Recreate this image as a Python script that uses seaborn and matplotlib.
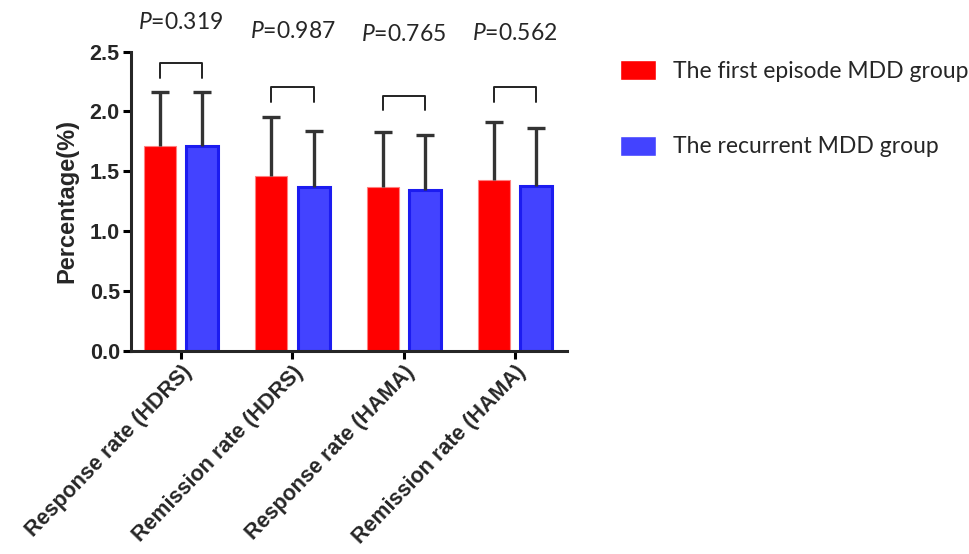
import matplotlib
matplotlib.use('Agg')
import matplotlib.pyplot as plt
import seaborn as sns
import numpy as np
import pandas as pd

# values
measures = ['Response rate (HDRS)', 'Remission rate (HDRS)',
            'Response rate (HAMA)', 'Remission rate (HAMA)']
groups = ['The first episode MDD group', 'The recurrent MDD group']
first_mean = [1.71, 1.46, 1.37, 1.43]
first_sd = [0.45, 0.49, 0.46, 0.48]
recur_mean = [1.71, 1.37, 1.34, 1.38]
recur_sd = [0.45, 0.47, 0.46, 0.48]
p_values = ['0.319', '0.987', '0.765', '0.562']
bracket_top = [2.40, 2.20, 2.13, 2.20]
p_text_y = [2.74, 2.67, 2.64, 2.65]

df = pd.DataFrame({
    'measure': measures * 2,
    'value': first_mean + recur_mean,
    'group': [groups[0]] * 4 + [groups[1]] * 4,
})

sns.set_style('ticks')
plt.rcParams['font.family'] = ['Liberation Sans', 'DejaVu Sans']
plt.rcParams['mathtext.fontset'] = 'custom'
plt.rcParams['mathtext.it'] = 'Lato:italic'
plt.rcParams['mathtext.rm'] = 'Lato'

fig = plt.figure(figsize=(9.7, 5.54), dpi=100)
ax = fig.add_axes([0.135, 0.367, 0.450, 0.540])

sns.barplot(data=df, x='measure', y='value', hue='group',
            palette=['#ff0000', '#4343ff'], saturation=1,
            width=0.76, gap=0.245, errorbar=None, ax=ax)

edges = ['#ff8080', '#1c1cf0']
edge_w = [0.8, 2.2]
sds = [first_sd, recur_sd]
means = [first_mean, recur_mean]
centers = []
for cont, ec, ew, m, s in zip(ax.containers, edges, edge_w, means, sds):
    xs = []
    for p in cont:
        p.set_edgecolor(ec)
        p.set_linewidth(ew)
        xs.append(p.get_x() + p.get_width() / 2)
    centers.append(xs)
    eb = ax.errorbar(xs, m, yerr=[np.zeros(len(s)), s], fmt='none',
                     ecolor='#333333', elinewidth=2.4, capsize=6.5,
                     capthick=2.4, zorder=1)
    eb[1][0].set_visible(False)  # no cap at the bar top

# significance brackets and p labels
leg = 0.12
for i in range(len(measures)):
    x1, x2 = centers[0][i], centers[1][i]
    t = bracket_top[i]
    ax.plot([x1, x1, x2, x2], [t - leg, t, t, t - leg], color='#222222',
            lw=1.4, clip_on=False)
    ax.text((x1 + x2) / 2, p_text_y[i], r'$P$=' + p_values[i], ha='center',
            va='center', fontsize=16.5, family='Lato', clip_on=False)

ax.set_ylim(0, 2.5)
ax.set_xlim(-0.45, 3.47)
ax.set_yticks([0, 0.5, 1.0, 1.5, 2.0, 2.5])
ax.set_yticklabels(['0.0', '0.5', '1.0', '1.5', '2.0', '2.5'],
                   fontsize=15.5, fontweight='bold')
ax.set_xticks(range(len(measures)))
ax.set_xticklabels(measures, rotation=46, ha='right', rotation_mode='anchor',
                   fontsize=15.5, fontweight='bold')
ax.set_xlabel('')
ax.set_ylabel('Percentage(%)', fontsize=17, fontweight='bold', labelpad=8)
for side in ['top', 'right']:
    ax.spines[side].set_visible(False)
for side in ['left', 'bottom']:
    ax.spines[side].set_linewidth(2.2)
ax.tick_params(axis='both', width=2.2, length=6, color='black', pad=2)

handles, labels = ax.get_legend_handles_labels()
ax.get_legend().remove()
fig.legend(handles, labels, loc='upper left', bbox_to_anchor=(0.639, 0.892),
           frameon=False, prop={'family': 'Lato', 'size': 16.5},
           handlelength=1.6, handleheight=0.97, handletextpad=0.72,
           labelspacing=2.35, borderpad=0, borderaxespad=0)

fig.savefig('out.png', dpi=100)
